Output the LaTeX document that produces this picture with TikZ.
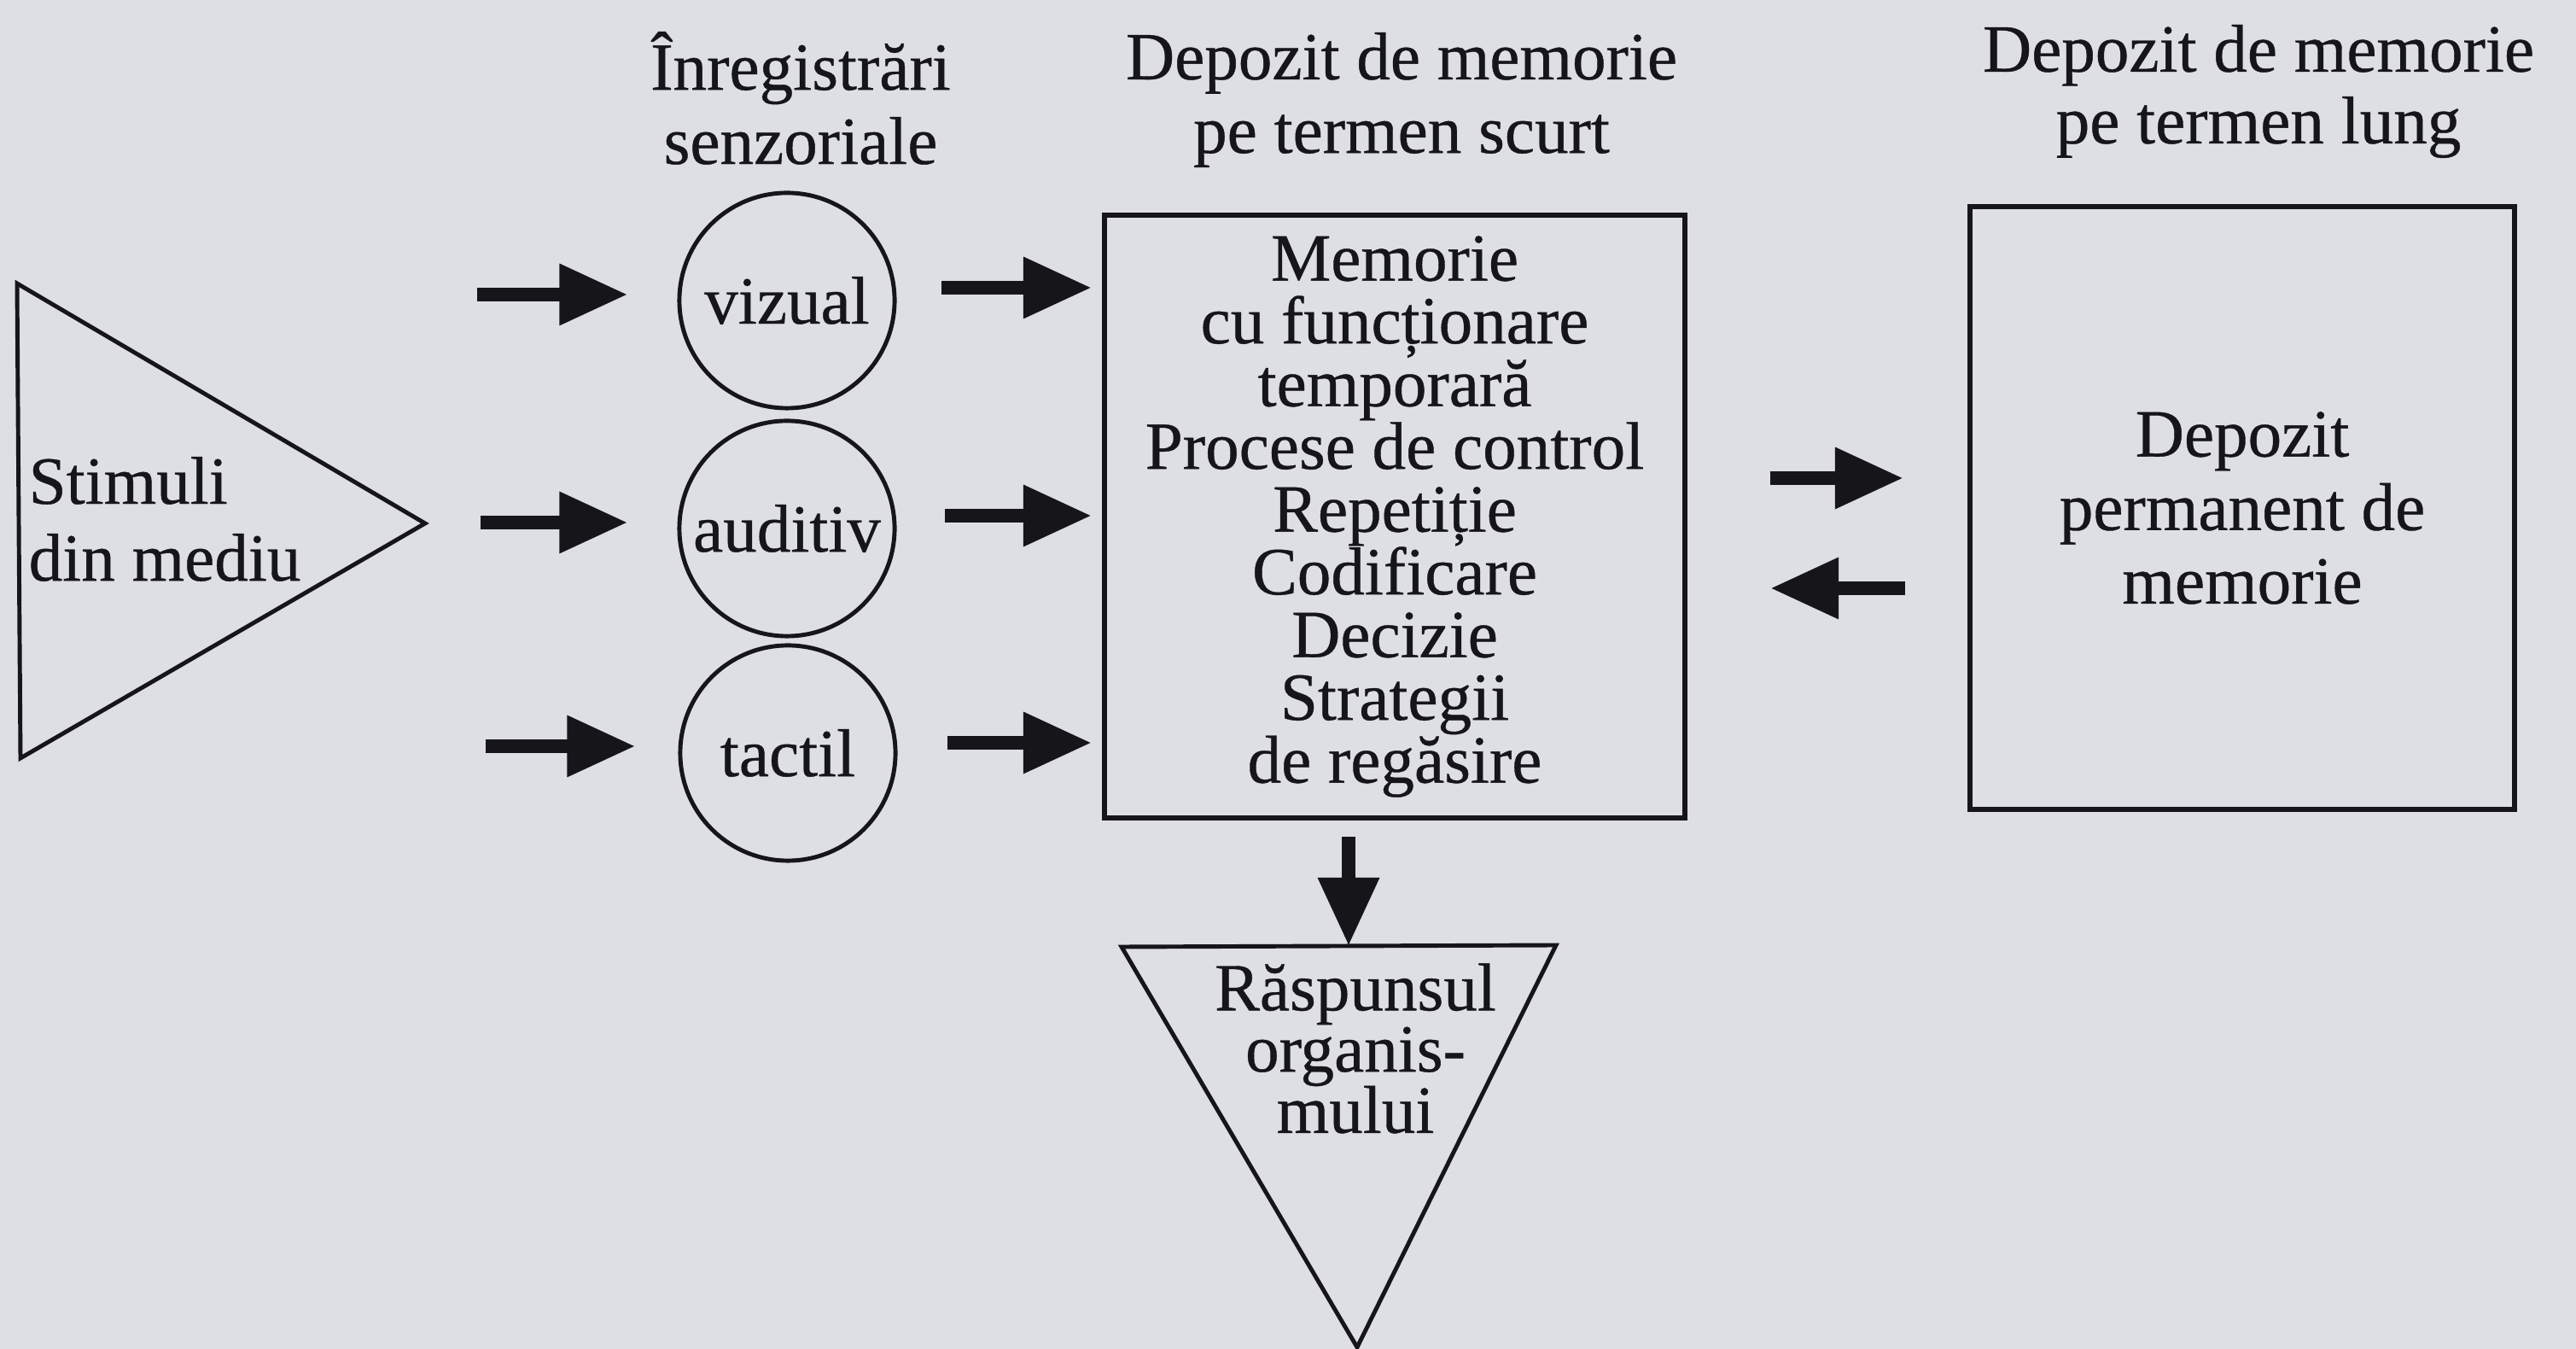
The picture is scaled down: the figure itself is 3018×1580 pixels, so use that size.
\documentclass[tikz,border=0pt]{standalone}
\usepackage{fontspec}
\setmainfont[FakeBold=0.5]{Liberation Serif}
\usetikzlibrary{arrows.meta,calc}
\definecolor{paper}{RGB}{221,223,228}
\definecolor{ink}{RGB}{22,22,26}
\begin{document}
\begin{tikzpicture}[x=0.01cm,y=-0.01cm,
  txt/.style={text=ink, inner sep=0pt, align=center,
    font={\fontsize{22.5}{24.5}\selectfont\lineskiplimit=-30pt}},
  circ/.style={txt, circle, draw=ink, line width=1.4pt, minimum size=2.52cm},
  box/.style={txt, rectangle, draw=ink, line width=1.6pt},
  tri/.style={draw=ink, line width=1.4pt, line join=miter},
  bigarrow/.style={draw=ink, line width=0.16cm, -{Triangle[length=0.8cm,width=0.68cm]}}
]
\fill[paper] (0,0) rectangle (3018,1580);
\useasboundingbox (0,0) rectangle (3018,1580);

% titles
\node[txt, font={\fontsize{22.5}{24.7}\selectfont\lineskiplimit=-30pt}] (tsens) at (938,115) {Înregistrări\\senzoriale};
\node[txt] (tstm) at (1642,117) {Depozit de memorie\\pe termen scurt};
\node[txt, font={\fontsize{22.5}{23.9}\selectfont\lineskiplimit=-30pt}] (tltm) at (2646,107) {Depozit de memorie\\pe termen lung};

% stimulus triangle
\coordinate (s1) at (20,332);
\coordinate (s2) at (498,613);
\coordinate (s3) at (24,888);
\draw[tri] (s1) -- (s2) -- (s3) -- cycle;
\node[txt, align=left, anchor=west, font={\fontsize{22.5}{25.6}\selectfont\lineskiplimit=-30pt}] (stim) at (33,608) {Stimuli\\din mediu};

% sensory registers
\node[circ] (viz) at (922,352) {vizual};
\node[circ] (aud) at (922,619) {auditiv};
\node[circ] (tac) at (923,882) {tactil};

% short-term store
\node[box, minimum width=6.8cm, minimum height=7.06cm,
  font={\fontsize{22.5}{20.9}\selectfont\lineskiplimit=-30pt}] (stm) at (1634,605)
  {Memorie\\cu funcționare\\temporară\\Procese de control\\Repetiție\\Codificare\\Decizie\\Strategii\\de regăsire};

% long-term store
\node[box, minimum width=6.38cm, minimum height=7.06cm] (ltm) at (2627,595)
  {Depozit\\permanent de\\memorie};

% response triangle
\coordinate (r1) at (1314,1109);
\coordinate (r2) at (1823,1107);
\coordinate (r3) at (1590,1578);
\draw[tri] (r1) -- (r2) -- (r3) -- cycle;
\node[txt, font={\fontsize{22.5}{20.4}\selectfont\lineskiplimit=-30pt}] (resp) at (1588,1228) {Răspunsul\\organis-\\mului};
\coordinate (rtop) at (1580,1108);

% arrows into sensory registers
\coordinate (in1) at (559,345);
\coordinate (in2) at (563,612);
\coordinate (in3) at (569,874);
\draw[bigarrow, shorten >=0.58cm] (in1) -- (in1 -| viz.west);
\draw[bigarrow, shorten >=0.58cm] (in2) -- (in2 -| aud.west);
\draw[bigarrow, shorten >=0.50cm] (in3) -- (in3 -| tac.west);

% arrows into short-term store
\coordinate (o1) at (1103,337);
\coordinate (o2) at (1107,604);
\coordinate (o3) at (1110,870);
\draw[bigarrow, shorten >=0.12cm] (o1) -- (o1 -| stm.west);
\draw[bigarrow, shorten >=0.12cm] (o2) -- (o2 -| stm.west);
\draw[bigarrow, shorten >=0.12cm] (o3) -- (o3 -| stm.west);

% arrows between stores
\coordinate (f1) at (2150,560);
\coordinate (b1) at (2150,689);
\draw[bigarrow, shorten <=0.97cm, shorten >=0.75cm] (stm.east |- f1) -- (ltm.west |- f1);
\draw[bigarrow, shorten <=0.73cm, shorten >=0.97cm] (ltm.west |- b1) -- (stm.east |- b1);

% arrow to response
\draw[bigarrow, shorten <=0.19cm] (stm.south -| rtop) -- (rtop);
\end{tikzpicture}
\end{document}
